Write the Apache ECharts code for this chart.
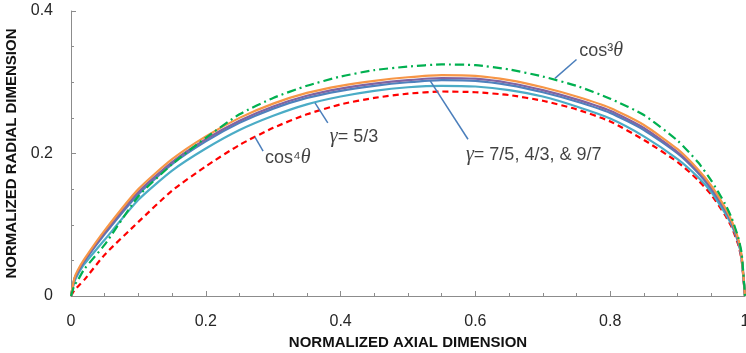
<!DOCTYPE html>
<html>
<head>
<meta charset="utf-8">
<script src="https://cdn.jsdelivr.net/npm/echarts@6/dist/echarts.min.js"></script>
<style>
  html, body { margin: 0; padding: 0; background: #fff; }
  #chart { width: 746px; height: 353px; }
</style>
</head>
<body>
<div id="chart"></div>
<script>
// normalized axial positions shared by every curve
const xValues = [0, 0.005, 0.01, 0.02, 0.05, 0.1, 0.15, 0.2, 0.25, 0.3, 0.35, 0.4, 0.45, 0.5, 0.55,
  0.6, 0.65, 0.7, 0.75, 0.8, 0.85, 0.9, 0.93, 0.95, 0.97, 0.98, 0.99, 0.995, 1];

const gamma97 = [0, 0.025, 0.036, 0.052, 0.092, 0.15, 0.192, 0.224, 0.25, 0.27, 0.285, 0.295, 0.302, 0.307, 0.31,
  0.309, 0.303, 0.293, 0.28, 0.264, 0.24, 0.206, 0.178, 0.155, 0.125, 0.106, 0.08, 0.056, 0];
const gamma43 = [0, 0.024, 0.034, 0.05, 0.089, 0.146, 0.188, 0.22, 0.246, 0.266, 0.281, 0.291, 0.298, 0.303, 0.306,
  0.305, 0.299, 0.289, 0.276, 0.26, 0.236, 0.202, 0.175, 0.152, 0.123, 0.104, 0.078, 0.055, 0];
const gamma75 = [0, 0.023, 0.033, 0.049, 0.087, 0.143, 0.185, 0.217, 0.243, 0.263, 0.278, 0.288, 0.295, 0.3, 0.303,
  0.302, 0.296, 0.286, 0.273, 0.257, 0.233, 0.2, 0.173, 0.15, 0.121, 0.103, 0.077, 0.054, 0];
const gamma53 = [0, 0.02, 0.03, 0.045, 0.079, 0.135, 0.176, 0.207, 0.233, 0.253, 0.269, 0.28, 0.288, 0.293, 0.295,
  0.294, 0.289, 0.28, 0.266, 0.249, 0.224, 0.192, 0.167, 0.146, 0.117, 0.1, 0.075, 0.052, 0];
const cos4 = [0, 0.008, 0.013, 0.023, 0.058, 0.104, 0.148, 0.182, 0.212, 0.236, 0.255, 0.269, 0.278, 0.284, 0.287,
  0.286, 0.282, 0.274, 0.262, 0.245, 0.219, 0.188, 0.163, 0.142, 0.114, 0.097, 0.072, 0.05, 0];
const cos3 = [0, 0.015, 0.022, 0.038, 0.072, 0.14, 0.185, 0.222, 0.255, 0.278, 0.295, 0.308, 0.317, 0.322, 0.325,
  0.324, 0.318, 0.308, 0.295, 0.277, 0.254, 0.218, 0.188, 0.162, 0.13, 0.11, 0.082, 0.06, 0];

// callout labels and their leader lines, in data units
const annotationText = ["{n|cos³}{i|θ}", "{i|γ}{n|= 7/5, 4/3, & 9/7}", "{i|γ}{n|= 5/3}", "{n|cos⁴}{i|θ}"];
const annotationAt = [[0.754, 0.344], [0.586, 0.198], [0.384, 0.223], [0.288, 0.194]];
const leaderLines = [
  [[0.718, 0.3055], [0.75, 0.332]],
  [[0.533, 0.302], [0.589, 0.22]],
  [[0.362, 0.271], [0.381, 0.243]],
  [[0.273, 0.223], [0.285, 0.2035]]
];

const pairs = ys => xValues.map((x, i) => [x, ys[i]]);

const curve = (name, ys, color, type) => ({
  name,
  type: "line",
  data: pairs(ys),
  showSymbol: false,
  smooth: 0.2,
  silent: true,
  lineStyle: { color, width: 2.2, type: type || "solid" }
});

const series = [
  curve("cos4", cos4, "#ff0000", [6, 4]),
  curve("5/3", gamma53, "#4bacc6"),
  curve("7/5", gamma75, "#4f81bd"),
  curve("4/3", gamma43, "#8064a2"),
  curve("9/7", gamma97, "#f79646"),
  curve("cos3", cos3, "#00b050", [9, 4, 2, 4])
];

leaderLines.forEach(seg => {
  series.push({
    type: "line",
    data: seg,
    showSymbol: false,
    silent: true,
    lineStyle: { color: "#4a7ebb", width: 1.5 }
  });
});

series.push({
  type: "scatter",
  symbolSize: 0,
  silent: true,
  data: annotationAt.map((p, i) => [p[0], p[1], annotationText[i]]),
  label: {
    show: true,
    position: "right",
    distance: 0,
    formatter: p => p.data[2],
    rich: {
      n: { fontFamily: "Liberation Sans", fontSize: 18, color: "#111" },
      i: { fontFamily: "Liberation Serif", fontStyle: "italic", fontSize: 20, color: "#111" }
    }
  }
});

const axisCommon = {
  type: "value",
  axisLine: { show: true, lineStyle: { color: "#8c8c8c", width: 1 } },
  axisTick: { show: true, inside: true, length: 5, lineStyle: { color: "#8c8c8c" } },
  minorTick: { show: true, splitNumber: 4, length: 3, lineStyle: { color: "#8c8c8c" } },
  splitLine: { show: false },
  nameLocation: "middle",
  nameTextStyle: { fontFamily: "Liberation Sans", fontWeight: "bold", fontSize: 15, color: "#111" }
};

const chart = echarts.init(document.getElementById("chart"));
chart.setOption({
  animation: false,
  backgroundColor: "#fff",
  grid: { left: 71, right: 1, top: 11, bottom: 57, containLabel: false, outerBoundsMode: "none" },
  xAxis: Object.assign({}, axisCommon, {
    min: 0, max: 1, interval: 0.2,
    name: "NORMALIZED AXIAL DIMENSION",
    nameGap: 38,
    axisLabel: { margin: 18, fontFamily: "Liberation Sans", fontSize: 16, color: "#262626" }
  }),
  yAxis: Object.assign({}, axisCommon, {
    min: 0, max: 0.4, interval: 0.2,
    name: "NORMALIZED RADIAL DIMENSION",
    nameGap: 40,
    nameRotate: 90,
    axisLabel: { margin: 18, fontFamily: "Liberation Sans", fontSize: 16, color: "#262626" }
  }),
  series
});
</script>
</body>
</html>
